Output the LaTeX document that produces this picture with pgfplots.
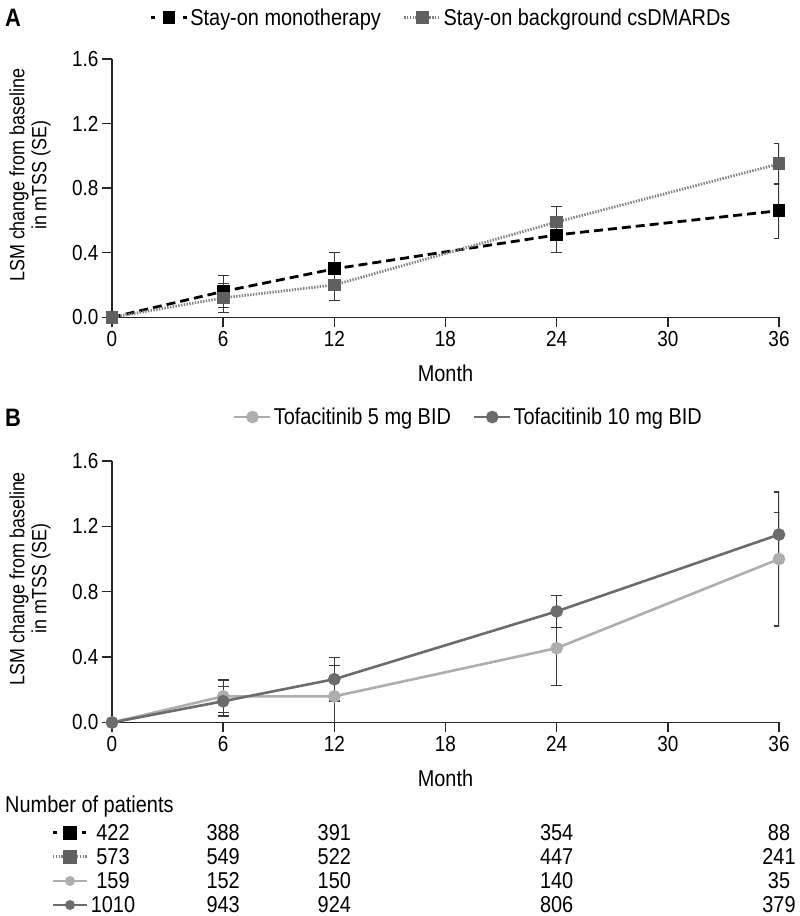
\documentclass[border=0pt]{standalone}
\usepackage{fontspec}
\setmainfont{Liberation Sans}
\usepackage{graphicx}
\usepackage{pgfplots}
\pgfplotsset{compat=1.18}
\newcommand\vs[1]{\scalebox{1}[1.15]{#1}}
\definecolor{bgray}{HTML}{606060}
\definecolor{bline}{HTML}{808080}
\definecolor{lgray}{HTML}{AEAEAE}
\definecolor{dgray}{HTML}{6C6C6C}
\definecolor{ebar}{HTML}{383838}
\pgfplotsset{
 myaxis/.style={
  scale only axis, width=667bp, xmin=0, xmax=36, ymin=0, ymax=1.6,
  axis x line=bottom, axis y line=left,
  axis line style={-, line width=1.4bp, black!85},
  tick style={line width=1.4bp, black!85},
  major tick length=10bp, tick align=outside,
  xtick={0,6,...,36}, ytick={0,0.4,0.8,1.2,1.6},
  /pgf/number format/assume math mode=true,
  xticklabel={\vs{\pgfmathprintnumber{\tick}}},
  yticklabel={\vs{\pgfmathprintnumber[fixed,fixed zerofill,precision=1]{\tick}}},
  tick label style={font=\fontsize{19}{22}\selectfont},
  xlabel={\vs{Month}},
  xlabel style={font=\fontsize{20}{24}\selectfont, at={(axis description cs:0.5,0)}, anchor=center, yshift=-56bp},
  ylabel={\vs{\begin{tabular}{@{}c@{}}LSM change from baseline\\in mTSS (SE)\end{tabular}}},
  ylabel style={font=\fontsize{18}{19}\selectfont, at={(axis description cs:-0.1214,0.55)}, anchor=center},
  legend style={draw=none, fill=none, font=\fontsize{20}{24}\selectfont, legend columns=2, anchor=center, /tikz/every even column/.append style={column sep=20bp}, inner sep=0pt},
  legend cell align=left,
  legend image code/.code={\draw[##1, mark repeat=2, mark phase=2] plot coordinates {(0bp,0bp) (18bp,0bp) (36bp,0bp)};},
 },
 myerr/.style={error bars/.cd, y dir=both, y explicit,
  error bar style={line width=1.2bp, ebar, solid},
  error mark options={rotate=90, mark size=5.5bp, line width=1.2bp, ebar, solid}},
}
\begin{document}
\begin{tikzpicture}
\useasboundingbox (0,0) rectangle (800bp,916bp);
% Panel A
\begin{axis}[myaxis, height=258.4bp, at={(112bp,598.7bp)}, anchor=south west,
  legend style={at={(0.4933,1.159)}}]
\addplot[black, line width=2.8bp, dash pattern=on 9bp off 5bp, mark=square*, mark size=5bp, mark options={solid, fill=black},
  legend image post style={dash pattern=on 4bp off 28bp}, myerr]
 coordinates {(0,0) +- (0,0) (6,0.16) +- (0,0.10) (12,0.30) +- (0,0.10) (24,0.51) +- (0,0.11) (36,0.66) +- (0,0.17)};
\addlegendentry{\vs{Stay-on monotherapy}}
\addplot[bline, line width=2.8bp, dash pattern=on 1.4bp off 1.4bp, mark=square*, mark size=5bp, mark options={solid, fill=bgray, draw=bgray}, myerr]
 coordinates {(0,0) +- (0,0) (6,0.12) +- (0,0.09) (12,0.20) +- (0,0.095) (24,0.59) +- (0,0.095) (36,0.95) +- (0,0.125)};
\addlegendentry{\vs{Stay-on background csDMARDs}}
\end{axis}
% Panel B
\begin{axis}[myaxis, height=261.5bp, at={(112bp,193.5bp)}, anchor=south west,
  legend style={at={(0.5345,1.168)}}]
\addplot[lgray, line width=2.6bp, mark=*, mark size=5bp, mark options={solid, fill=lgray, draw=lgray}, myerr]
 coordinates {(0,0) +- (0,0) (6,0.16) +- (0,0.10) (12,0.16) +- (0,0.19) (24,0.455) +- (0,0.23) (36,1.0) +- (0,0.41)};
\addlegendentry{\vs{Tofacitinib 5 mg BID}}
\addplot[dgray, line width=2.6bp, mark=*, mark size=5bp, mark options={solid, fill=dgray, draw=dgray}, myerr]
 coordinates {(0,0) +- (0,0) (6,0.13) +- (0,0.09) (12,0.265) +- (0,0.133) (24,0.68) +- (0,0.097) (36,1.15) +- (0,0.135)};
\addlegendentry{\vs{Tofacitinib 10 mg BID}}
\end{axis}
% Panel letters
\node[font=\bfseries\fontsize{22}{26}\selectfont] at (13bp,898bp) {\vs{A}};
\node[font=\bfseries\fontsize{22}{26}\selectfont] at (13bp,498bp) {\vs{B}};
% Number of patients table
\begin{scope}[font=\fontsize{20}{24}\selectfont]
\node[anchor=west, inner sep=0pt] at (5bp,109bp) {\vs{Number of patients}};
% symbols
\draw[black, line width=3bp] (53bp,83bp) -- (57bp,83bp) (82bp,83bp) -- (86bp,83bp);
\fill[black] (63bp,76bp) rectangle (77bp,90bp);
\draw[bline, line width=3bp, dash pattern=on 1.4bp off 1.4bp] (53bp,59bp) -- (63bp,59bp) (77bp,59bp) -- (87bp,59bp);
\fill[bgray] (63bp,52bp) rectangle (77bp,66bp);
\draw[lgray, line width=2.6bp] (53bp,35bp) -- (87bp,35bp);
\fill[lgray] (70bp,35bp) circle (5bp);
\draw[dgray, line width=2.6bp] (53bp,11bp) -- (87bp,11bp);
\fill[dgray] (70bp,11bp) circle (5bp);
% numbers
\foreach \x/\a/\b/\c/\d in {113/422/573/159/1010, 223.2/388/549/152/943, 334.3/391/522/150/924, 556.7/354/447/140/806, 779/88/241/35/379}{
  \node at (\x bp,83bp) {\vs{\a}};
  \node at (\x bp,59bp) {\vs{\b}};
  \node at (\x bp,35bp) {\vs{\c}};
  \node at (\x bp,11bp) {\vs{\d}};
}
\end{scope}
\end{tikzpicture}
\end{document}
